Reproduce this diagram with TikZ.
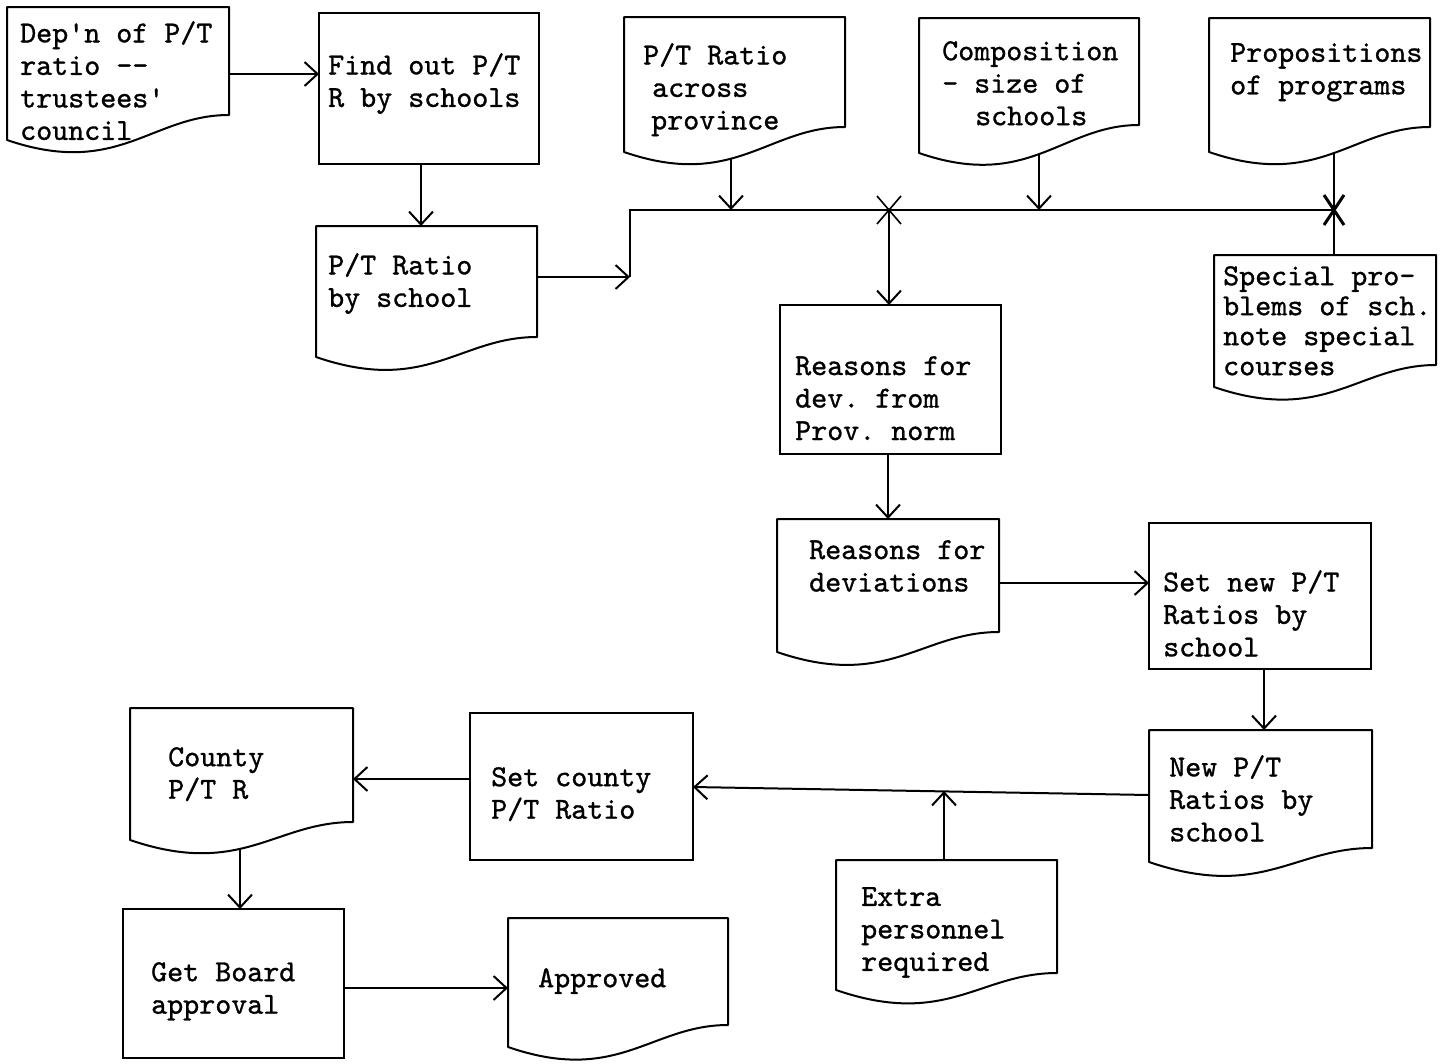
\documentclass[tikz,border=0pt]{standalone}
\usepackage{fontspec}
\setmonofont{lmmono10-regular.otf}[FakeBold=1]
\usetikzlibrary{arrows.meta}
\pgfdeclarelayer{paper}
\pgfdeclarelayer{wires}
\pgfsetlayers{paper,wires,main}

\tikzset{
  outline/.style={line width=2pt, fill=white, line join=round},
  docnode/.style={inner sep=0pt, outer sep=0pt, draw=none},
  procnode/.style={inner sep=0pt, outer sep=0pt, draw, line width=2pt, fill=white, anchor=north west},
  txt/.style={font=\ttfamily\fontsize{30.5}{32.5}\selectfont, align=left, inner sep=0pt,
    anchor=north west, execute at begin node={\rule{0pt}{24pt}}},
  wire/.style={line width=2pt},
  arr/.style={wire, -{Straight Barb[length=13pt,width=24pt]}},
  xmark/.style={line width=1.6pt},
}

% document symbol: name, left, top, right, right-bottom, left-bottom
\newcommand\docshape[6]{%
  \pgfmathsetmacro\docW{#4-#2}%
  \pgfmathsetmacro\docH{#5-#3}%
  \pgfmathsetmacro\docCa{#4-0.35*\docW}%
  \pgfmathsetmacro\docCb{#2+0.5*\docW}%
  \pgfmathsetmacro\docCy{#6+38}%
  \node[docnode, minimum width=\docW pt, minimum height=\docH pt, anchor=north west] (#1) at (#2,#3) {};
  \draw[outline] (#2,#6) -- (#2,#3) -- (#4,#3) -- (#4,#5)
    .. controls (\docCa,#5) and (\docCb,\docCy) .. (#2,#6) -- cycle;
}
% process box: name, left, top, right, bottom
\newcommand\procbox[5]{%
  \pgfmathsetmacro\docW{#4-#2}%
  \pgfmathsetmacro\docH{#5-#3}%
  \node[procnode, minimum width=\docW pt, minimum height=\docH pt] (#1) at (#2,#3) {};
}

\begin{document}
\begin{tikzpicture}[x=1pt, y=-1pt]
\useasboundingbox (0,0) rectangle (1445,1063);
\begin{pgfonlayer}{paper}
  \fill[white] (0,0) rectangle (1445,1063);
\end{pgfonlayer}

% shapes
\docshape{A}{7}{7}{229}{115}{140}
\procbox{B}{319}{13}{539}{164}
\docshape{C}{316}{226}{537}{337}{357}
\docshape{D}{624}{17}{845}{127}{152}
\docshape{E}{919}{18}{1139}{125}{153}
\docshape{F}{1209}{18}{1430}{127}{152}
\docshape{G}{1214}{255}{1436}{365}{387}
\procbox{H}{780}{305}{1001}{454}
\docshape{I}{777}{519}{999}{632}{652}
\procbox{J}{1149}{523}{1371}{669}
\docshape{K}{1149}{730}{1372}{848}{862}
\procbox{L}{470}{713}{693}{860}
\docshape{M}{836}{860}{1057}{973}{990}
\docshape{N}{130}{708}{353}{822}{840}
\procbox{O}{123}{909}{344}{1058}
\docshape{P}{508}{918}{728}{1025}{1047}

% texts
\node[txt] (A-t) at (20,21) {Dep'n of P/T\\ratio --\\trustees'\\council};
\node[txt] (B-t) at (328,53) {Find out P/T\\R by schools};
\node[txt] (C-t) at (328,253) {P/T Ratio\\by school};
\node[txt] (D-t) at (643,43) {P/T Ratio\\\hspace{9pt}across\\\hspace{8pt}province};
\node[txt] (E-t) at (942,41) {Composition\\- size of\\\hspace{33pt}schools};
\node[txt] (F-t) at (1230,43) {Propositions\\of programs};
\node[txt, font=\ttfamily\fontsize{30.5}{30}\selectfont] (G-t) at (1223,266) {Special pro-\\blems of sch.\\note special\\courses};
\node[txt] (H-t) at (795,356) {Reasons for\\dev. from\\Prov. norm};
\node[txt] (I-t) at (809,540) {Reasons for\\deviations};
\node[txt] (J-t) at (1163,570) {Set new P/T\\Ratios by\\school};
\node[txt] (K-t) at (1169,755) {New P/T\\Ratios by\\school};
\node[txt] (L-t) at (491,767) {Set county\\P/T Ratio};
\node[txt] (M-t) at (861,887) {Extra\\personnel\\required};
\node[txt] (N-t) at (168,747) {County\\P/T R};
\node[txt] (O-t) at (151,962) {Get Board\\approval};
\node[txt] (P-t) at (538,963) {Approved};

% points of the collecting line
\coordinate (cj) at (630,277);
\coordinate (j0) at (630,210);
\coordinate (dbus) at (731,210);
\coordinate (jx) at (889,210);
\coordinate (ebus) at (1039,210);
\coordinate (fg) at (1334,210);
\coordinate (kin) at (1149,795);
\coordinate (lin) at (693,787);
\coordinate (km) at (944,791);

\begin{pgfonlayer}{wires}
  \draw[arr] (A.east |- 0,74) -- (B.west |- 0,74);
  \draw[arr] (B.south -| 421,0) -- (C.north -| 421,0);
  \draw[arr] (C.east |- cj) -- (cj);
  \draw[wire] (cj) -- (j0) -- (fg);
  \draw[arr] (D.center -| dbus) -- (dbus);
  \draw[arr] (E.center -| ebus) -- (ebus);
  \draw[wire] (F.center -| fg) -- (G.north -| fg);
  \draw[arr] (jx) -- (H.north -| jx);
  \draw[arr] (H.south -| 888,0) -- (I.north -| 888,0);
  \draw[arr] (I.east |- 0,583) -- (J.west |- 0,583);
  \draw[arr] (J.south -| 1264,0) -- (K.north -| 1264,0);
  \draw[arr] (kin) -- (lin);
  \draw[arr] (M.north -| km) -- (km);
  \draw[arr] (L.west |- 0,779) -- (N.east |- 0,779);
  \draw[arr] (N.center -| 240,0) -- (O.north -| 240,0);
  \draw[arr] (O.east |- 0,988) -- (P.west |- 0,988);
\end{pgfonlayer}

% crossing marks on the collecting line
\draw[xmark] ([shift={(-12,-14)}]jx) -- ([shift={(12,14)}]jx);
\draw[xmark] ([shift={(12,-14)}]jx) -- ([shift={(-12,14)}]jx);
\draw[xmark, line width=3pt] ([shift={(-10,-15)}]fg) -- ([shift={(10,15)}]fg);
\draw[xmark, line width=3pt] ([shift={(10,-15)}]fg) -- ([shift={(-10,15)}]fg);
\end{tikzpicture}
\end{document}
